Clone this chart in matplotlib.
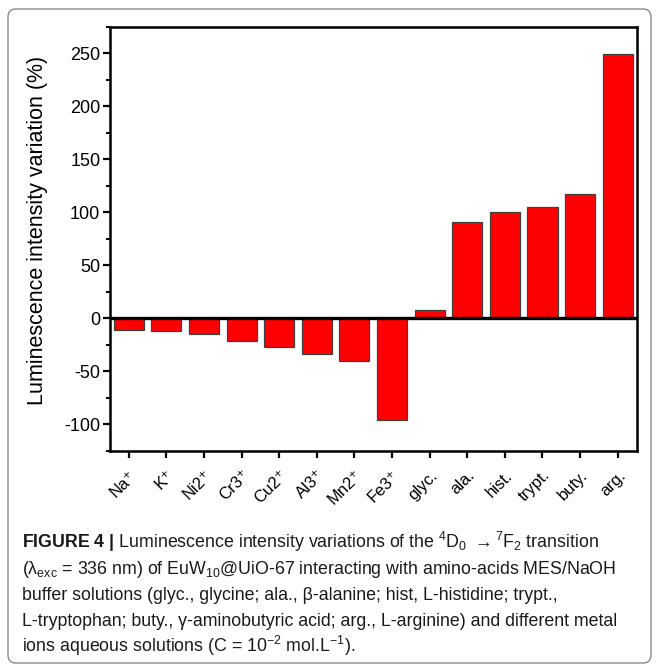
import numpy as np
import matplotlib
matplotlib.use("Agg")
import matplotlib.pyplot as plt
from matplotlib.patches import FancyBboxPatch
from matplotlib.ticker import MultipleLocator

# Fuentes y mathtext
plt.rcParams['font.family'] = ['Liberation Sans', 'DejaVu Sans']
plt.rcParams['mathtext.fontset'] = 'custom'
plt.rcParams['mathtext.rm'] = 'Liberation Sans'
plt.rcParams['mathtext.it'] = 'Liberation Sans:italic'
plt.rcParams['mathtext.bf'] = 'Liberation Sans:bold'
plt.rcParams['axes.unicode_minus'] = False

# Datos
categorias = ["Na⁺", "K⁺", "Ni2⁺", "Cr3⁺", "Cu2⁺", "Al3⁺", "Mn2⁺", "Fe3⁺",
              "glyc.", "ala.", "hist.", "trypt.", "buty.", "arg."]
variacion = [-11, -12, -14.5, -21.5, -27, -33.5, -40, -96,
             7.5, 90.5, 100.5, 105, 117.5, 249]

yticks = [-100, -50, 0, 50, 100, 150, 200, 250]

leyenda = [
    r"$\mathbf{FIGURE\ 4\ |}$ Luminescence intensity variations of the $^4$D$_0$ $\rightarrow$$^7$F$_2$ transition",
    r"(λ$_{\rm exc}$ = 336 nm) of EuW$_{10}$@UiO-67 interacting with amino-acids MES/NaOH",
    "buffer solutions (glyc., glycine; ala., β-alanine; hist, L-histidine; trypt.,",
    "L-tryptophan; buty., γ-aminobutyric acid; arg., L-arginine) and different metal",
    r"ions aqueous solutions (C = 10$^{-2}$ mol.L$^{-1}$).",
]

W, H = 659, 670
fig = plt.figure(figsize=(W / 100, H / 100), dpi=100)

# Marco redondeado de la figura
marco = FancyBboxPatch((8 / W, 1 - 663 / H), 643 / W, 654 / H,
                       boxstyle="round,pad=0,rounding_size=0.012",
                       transform=fig.transFigure, facecolor='none',
                       edgecolor='#8a8a8a', linewidth=1.0)
fig.patches.append(marco)

ax = fig.add_axes([110 / W, 1 - 451 / H, 526.5 / W, 424.3 / H])

x = np.arange(len(categorias))
ax.bar(x, variacion, width=0.8, color='#ff0000', edgecolor='#404040', linewidth=0.9, zorder=2)
ax.axhline(0, color='black', linewidth=2.4, zorder=3)

ax.set_xlim(-0.5, len(categorias) - 0.5)
ax.set_ylim(-125, 275)
ax.set_yticks(yticks)
ax.yaxis.set_minor_locator(MultipleLocator(25))

for s in ax.spines.values():
    s.set_linewidth(1.8)

ax.tick_params(axis='y', which='major', direction='out', length=5, width=1.6,
               labelsize=13, pad=2)
ax.tick_params(axis='y', which='minor', direction='out', length=3, width=1.4)
ax.tick_params(axis='x', which='major', direction='out', length=5, width=1.6,
               labelsize=12, pad=7)

ax.set_xticks(x)
ax.set_xticklabels(categorias, rotation=45, ha='right', rotation_mode='anchor')

lab = ax.set_ylabel("Luminescence intensity variation (%)", fontsize=15.5)
ax.yaxis.set_label_coords(-0.137, 0.52)
lab.set_va('center')

# Pie de figura
y0 = 548
for i, linea in enumerate(leyenda):
    fig.text(22 / W, 1 - (y0 + 26 * i) / H, linea, fontsize=12.8,
             va='baseline', ha='left', color='#1a1a1a')

fig.savefig("out.png", dpi=100)
